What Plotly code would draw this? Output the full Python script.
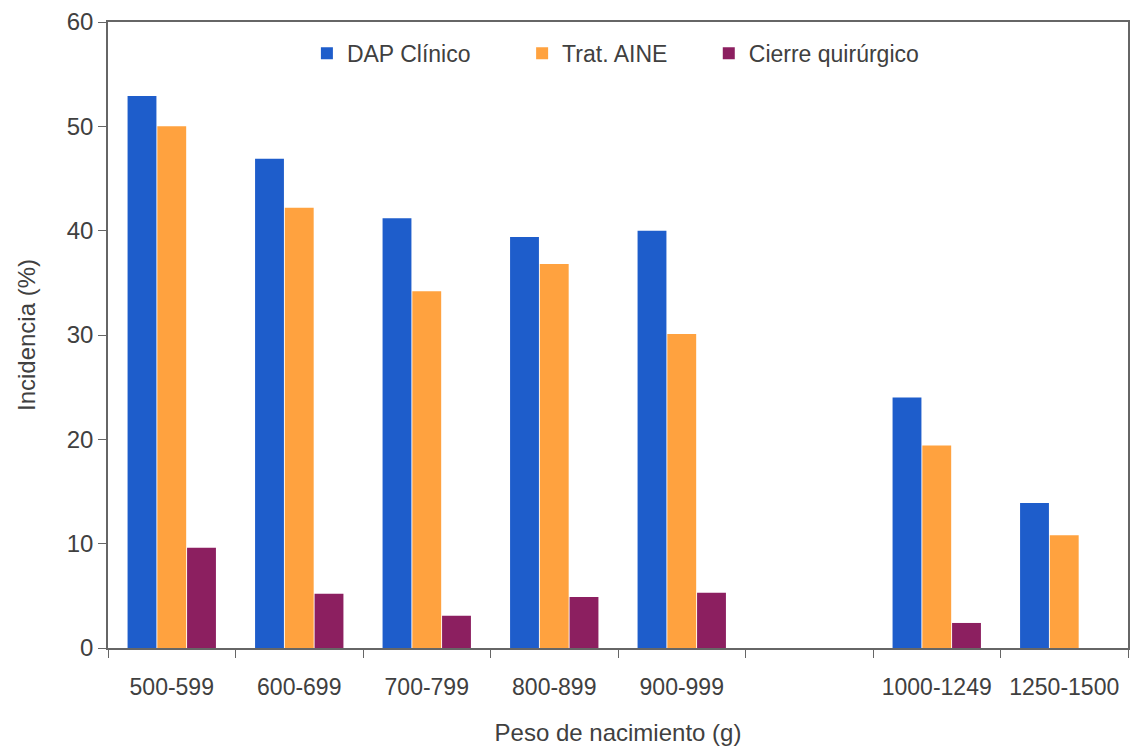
import plotly.graph_objects as go

categories = ["500-599", "600-699", "700-799", "800-899", "900-999", " ", "1000-1249", "1250-1500"]
dap_clinico = [52.9, 46.9, 41.2, 39.4, 40.0, None, 24.0, 13.9]
trat_aine = [50.0, 42.2, 34.2, 36.8, 30.1, None, 19.4, 10.8]
cierre_quir = [9.6, 5.2, 3.1, 4.9, 5.3, None, 2.4, None]
y_ticks = [0, 10, 20, 30, 40, 50, 60]

font_family = "Liberation Sans, Arial, sans-serif"
text_color = "#404040"
axis_color = "#666666"

fig = go.Figure()
fig.add_trace(go.Bar(name="DAP Clínico", x=categories, y=dap_clinico, legend="legend",
                     marker=dict(color="#1e5dcb", line=dict(width=0))))
fig.add_trace(go.Bar(name="Trat. AINE", x=categories, y=trat_aine, legend="legend2",
                     marker=dict(color="#ffa23f", line=dict(width=0))))
fig.add_trace(go.Bar(name="Cierre quirúrgico", x=categories, y=cierre_quir, legend="legend3",
                     marker=dict(color="#8c1f60", line=dict(width=0))))

leg_common = dict(orientation="h", y=0.95, xanchor="left", yanchor="middle",
                  font=dict(size=23, color=text_color), bgcolor="rgba(0,0,0,0)")

fig.update_layout(
    width=1138, height=750,
    margin=dict(l=108, r=8, t=20, b=102),
    paper_bgcolor="white", plot_bgcolor="white",
    barmode="group", bargap=0.3, bargroupgap=0.03,
    font=dict(family=font_family, size=23, color=text_color),
    showlegend=True,
    legend=dict(x=0.195, **leg_common),
    legend2=dict(x=0.406, **leg_common),
    legend3=dict(x=0.589, **leg_common),
    xaxis=dict(
        type="category", categoryorder="array", categoryarray=categories,
        tickson="boundaries", ticks="outside", ticklen=8, tickcolor=axis_color,
        showline=True, linecolor=axis_color, linewidth=1.5, mirror=True,
        showgrid=False, tickfont=dict(size=23, color=text_color),
        ticklabelstandoff=18,
        title=dict(text="Peso de nacimiento (g)", font=dict(size=24, color=text_color), standoff=25),
    ),
    yaxis=dict(
        range=[0, 60], tickvals=y_ticks, ticks="outside", ticklen=8, tickcolor=axis_color,
        showline=True, linecolor=axis_color, linewidth=1.5, mirror=True,
        showgrid=False, zeroline=False, tickfont=dict(size=24, color=text_color),
        title=dict(text="Incidencia (%)", font=dict(size=24, color=text_color), standoff=24),
    ),
)

fig.write_html("out.html")
